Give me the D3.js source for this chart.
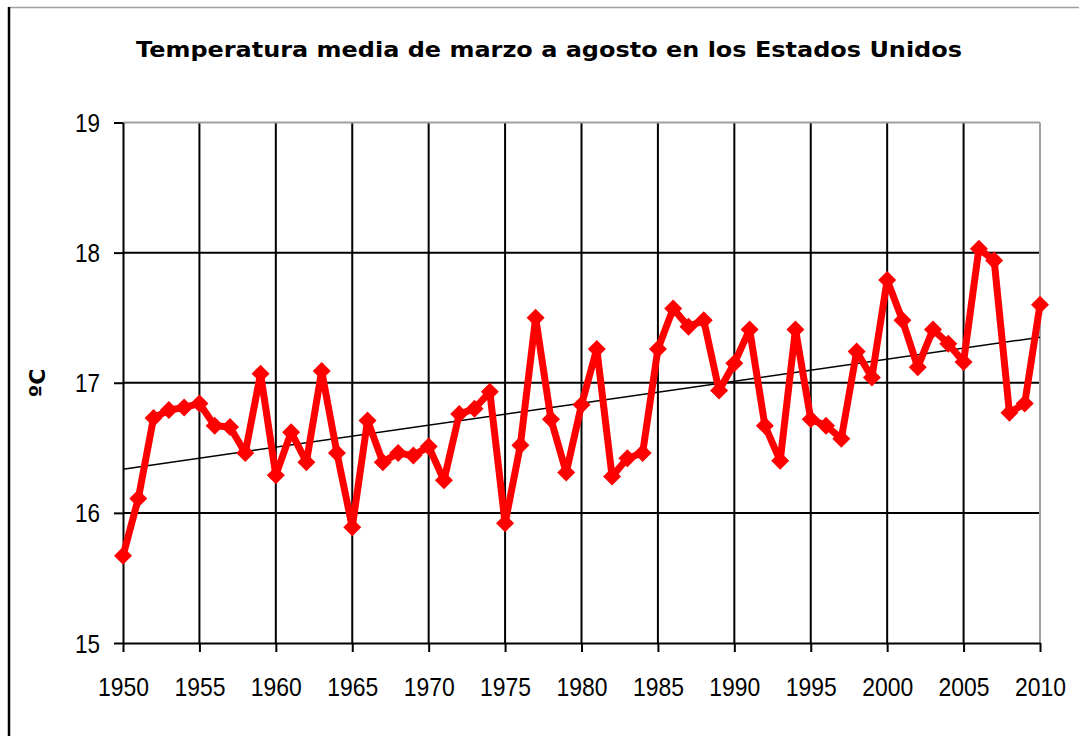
<!DOCTYPE html>
<html>
<head>
<meta charset="utf-8">
<script src="https://cdn.jsdelivr.net/npm/d3@7"></script>
<style>
  html, body { margin: 0; padding: 0; background: #fff; }
  svg { display: block; }
</style>
</head>
<body>
<svg id="chart" width="1079" height="736"></svg>
<script>
const title = "Temperatura media de marzo a agosto en los Estados Unidos";
const yLabel = "ºC";
const years = d3.range(1950, 2011);
const temps = [
  15.67, 16.11, 16.73, 16.79, 16.81, 16.84, 16.67, 16.66, 16.46, 17.07,
  16.29, 16.62, 16.39, 17.09, 16.46, 15.89, 16.71, 16.39, 16.46, 16.44,
  16.51, 16.25, 16.76, 16.80, 16.93, 15.92, 16.52, 17.50, 16.72, 16.31,
  16.83, 17.26, 16.28, 16.42, 16.46, 17.26, 17.57, 17.43, 17.48, 16.94,
  17.15, 17.41, 16.67, 16.40, 17.41, 16.72, 16.67, 16.57, 17.24, 17.04,
  17.79, 17.48, 17.12, 17.41, 17.30, 17.16, 18.03, 17.94, 16.77, 16.84,
  17.60
];
const xTicks = d3.range(1950, 2011, 5);
const yTicks = [15, 16, 17, 18, 19];

const svg = d3.select("#chart");
const W = 1079, H = 736;

// outer frame
svg.append("line").attr("x1", 8).attr("x2", W).attr("y1", 7.5).attr("y2", 7.5)
  .attr("stroke", "#a0a0a0").attr("stroke-width", 1.5);
svg.append("line").attr("x1", 9).attr("x2", 9).attr("y1", 7).attr("y2", H)
  .attr("stroke", "#000").attr("stroke-width", 2.5);

const x = d3.scaleLinear().domain([1950, 2010]).range([123, 1040]);
const y = d3.scaleLinear().domain([15, 19]).range([643, 122.5]);

// gridlines
const g = svg.append("g");
g.selectAll("line.vg").data(xTicks.slice(1, -1)).join("line")
  .attr("x1", d => x(d)).attr("x2", d => x(d))
  .attr("y1", y(19)).attr("y2", y(15))
  .attr("stroke", "#000").attr("stroke-width", 2);
g.selectAll("line.hg").data(yTicks.slice(1, -1)).join("line")
  .attr("x1", x(1950)).attr("x2", x(2010))
  .attr("y1", d => y(d)).attr("y2", d => y(d))
  .attr("stroke", "#000").attr("stroke-width", 2);
// plot border top/right gray
g.append("line").attr("x1", x(1950)).attr("x2", x(2010)).attr("y1", y(19)).attr("y2", y(19))
  .attr("stroke", "#a0a0a0").attr("stroke-width", 2);
g.append("line").attr("x1", x(2010)).attr("x2", x(2010)).attr("y1", y(19)).attr("y2", y(15))
  .attr("stroke", "#a0a0a0").attr("stroke-width", 2);

// axes
const xAxis = d3.axisBottom(x).tickValues(xTicks).tickFormat(d3.format("d")).tickSize(9).tickSizeOuter(0);
const yAxis = d3.axisLeft(y).tickValues(yTicks).tickFormat(d3.format("d")).tickSize(9).tickSizeOuter(0);

const xg = svg.append("g").attr("transform", `translate(0,${y(15)})`).call(xAxis);
const yg = svg.append("g").attr("transform", `translate(${x(1950)},0)`).call(yAxis);
[xg, yg].forEach(a => {
  a.select(".domain").attr("stroke", "#000").attr("stroke-width", 2);
  a.selectAll(".tick line").attr("stroke", "#000").attr("stroke-width", 2);
  a.selectAll(".tick text")
    .attr("font-family", "'Liberation Sans', Arial, sans-serif")
    .attr("font-size", 25).attr("fill", "#000");
});
xg.selectAll(".tick text").attr("y", 0).attr("dy", 0)
  .attr("transform", "translate(0,53)")
  .attr("textLength", 51).attr("lengthAdjust", "spacingAndGlyphs");
yg.selectAll(".tick text").attr("x", -23).attr("dy", "0.36em")
  .attr("textLength", 25).attr("lengthAdjust", "spacingAndGlyphs");

// trend line (least squares)
const n = years.length;
const mx = d3.mean(years), my = d3.mean(temps);
let sxy = 0, sxx = 0;
for (let i = 0; i < n; i++) { sxy += (years[i] - mx) * (temps[i] - my); sxx += (years[i] - mx) ** 2; }
const slope = sxy / sxx, icpt = my - slope * mx;
svg.append("line")
  .attr("x1", x(1950)).attr("y1", y(icpt + slope * 1950))
  .attr("x2", x(2010)).attr("y2", y(icpt + slope * 2010))
  .attr("stroke", "#000").attr("stroke-width", 1.5);

// series
const data = years.map((yr, i) => ({ yr, v: temps[i] }));
const line = d3.line().x(d => x(d.yr)).y(d => y(d.v));
svg.append("path").datum(data).attr("d", line)
  .attr("fill", "none").attr("stroke", "#ff0000").attr("stroke-width", 7)
  .attr("stroke-linejoin", "round");
svg.append("g").selectAll("path").data(data).join("path")
  .attr("transform", d => `translate(${x(d.yr)},${y(d.v)})`)
  .attr("d", "M0,-9L9,0L0,9L-9,0Z")
  .attr("fill", "#ff0000");

// title
svg.append("text").attr("x", 549).attr("y", 57).attr("text-anchor", "middle")
  .attr("font-family", "'DejaVu Sans', sans-serif").attr("font-weight", "bold")
  .attr("font-size", 22).attr("textLength", 826).attr("lengthAdjust", "spacingAndGlyphs")
  .attr("fill", "#000").text(title);

// y label
svg.append("text").attr("transform", "translate(45,383) rotate(-90)")
  .attr("text-anchor", "middle")
  .attr("font-family", "'DejaVu Sans', sans-serif").attr("font-weight", "bold")
  .attr("font-size", 22).attr("fill", "#000").text(yLabel);
</script>
</body>
</html>
